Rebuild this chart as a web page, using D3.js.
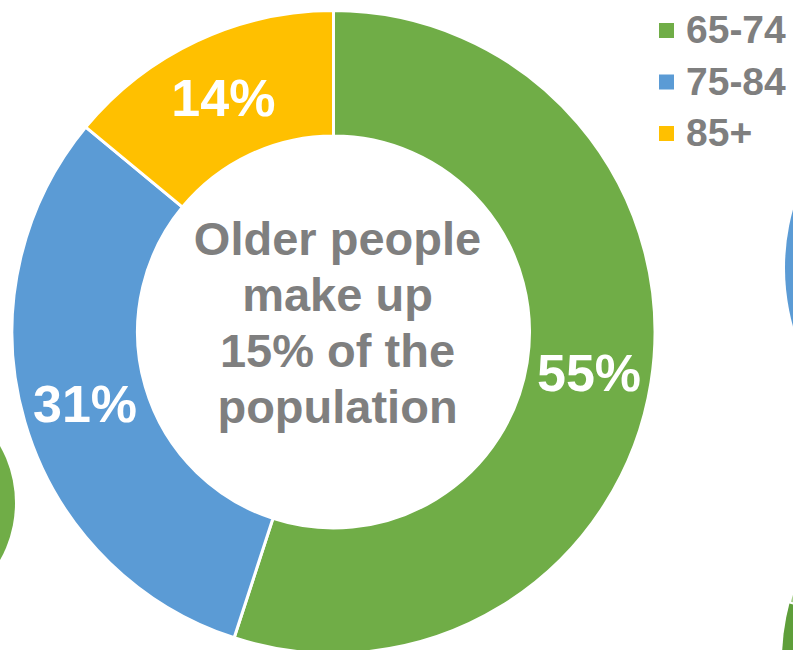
<!DOCTYPE html>
<html>
<head>
<meta charset="utf-8">
<script src="https://cdn.jsdelivr.net/npm/d3@7"></script>
<style>
  body { margin: 0; background: #fff; }
  svg { display: block; font-family: "Liberation Sans", Arial, sans-serif; font-weight: bold; }
</style>
</head>
<body>
<script>
// data
var ageGroups = ["65-74", "75-84", "85+"];
var shares = [55, 31, 14];
var sliceColors = ["#70ad47", "#5b9bd5", "#ffc000"];
var centreLines = ["Older people", "make up", "15% of the", "population"];

var width = 793, height = 650;
var cx = 333.5, cy = 332;
var outerR = 321.5, innerR = 196;

var svg = d3.select("body").append("svg")
    .attr("width", width)
    .attr("height", height);

// bits of the neighbouring charts that peek in at the edges
var edgeShapes = [
  {x: 1003, y: 268, r: 218, fill: "#5b9bd5"},
  {x: -101, y: 503, r: 116, fill: "#70ad47"},
  {x: 1000, y: 660, r: 218, fill: "#5e9e3a"}
];
svg.selectAll("circle.edge")
  .data(edgeShapes)
  .enter().append("circle")
    .attr("class", "edge")
    .attr("cx", d => d.x)
    .attr("cy", d => d.y)
    .attr("r", d => d.r)
    .attr("fill", d => d.fill);
// lighter slice of the bottom-right neighbour
svg.append("path")
    .attr("transform", "translate(1000,660)")
    .attr("d", d3.arc().innerRadius(0).outerRadius(218)
        .startAngle(-Math.PI * 0.415).endAngle(-Math.PI * 0.3)())
    .attr("fill", "#a9d08e")
    .attr("stroke", "#fff")
    .attr("stroke-width", 2);

var color = d3.scaleOrdinal().domain(ageGroups).range(sliceColors);

var pie = d3.pie().sort(null).value(d => d.value);
var arcs = pie(ageGroups.map((g, i) => ({group: g, value: shares[i]})));

var arc = d3.arc().innerRadius(innerR).outerRadius(outerR);
var labelArc = d3.arc().innerRadius((innerR + outerR) / 2).outerRadius((innerR + outerR) / 2);

var g = svg.append("g").attr("transform", "translate(" + cx + "," + cy + ")");

g.selectAll("path.slice")
  .data(arcs)
  .enter().append("path")
    .attr("class", "slice")
    .attr("d", arc)
    .attr("fill", d => color(d.data.group))
    .attr("stroke", "#fff")
    .attr("stroke-width", 3);

g.selectAll("text.pct")
  .data(arcs)
  .enter().append("text")
    .attr("class", "pct")
    .attr("transform", d => "translate(" + labelArc.centroid(d) + ")")
    .attr("text-anchor", "middle")
    .attr("dy", "0.35em")
    .attr("fill", "#fff")
    .style("font-size", "52px")
    .text(d => d.data.value + "%");

// centre text
g.append("text")
    .attr("text-anchor", "middle")
    .attr("fill", "#7f7f7f")
    .style("font-size", "47px")
  .selectAll("tspan")
  .data(centreLines)
  .enter().append("tspan")
    .attr("x", 4)
    .attr("y", (d, i) => -77 + i * 56)
    .text(d => d);

// legend
var legend = svg.append("g").attr("transform", "translate(659,0)");
var rows = legend.selectAll("g.row")
  .data(ageGroups)
  .enter().append("g")
    .attr("class", "row")
    .attr("transform", (d, i) => "translate(0," + (43 + i * 51.5) + ")");
rows.append("rect")
    .attr("y", -20)
    .attr("width", 15)
    .attr("height", 15)
    .attr("fill", d => color(d));
rows.append("text")
    .attr("x", 27)
    .attr("fill", "#7f7f7f")
    .style("font-size", "39px")
    .text(d => d);
</script>
</body>
</html>
